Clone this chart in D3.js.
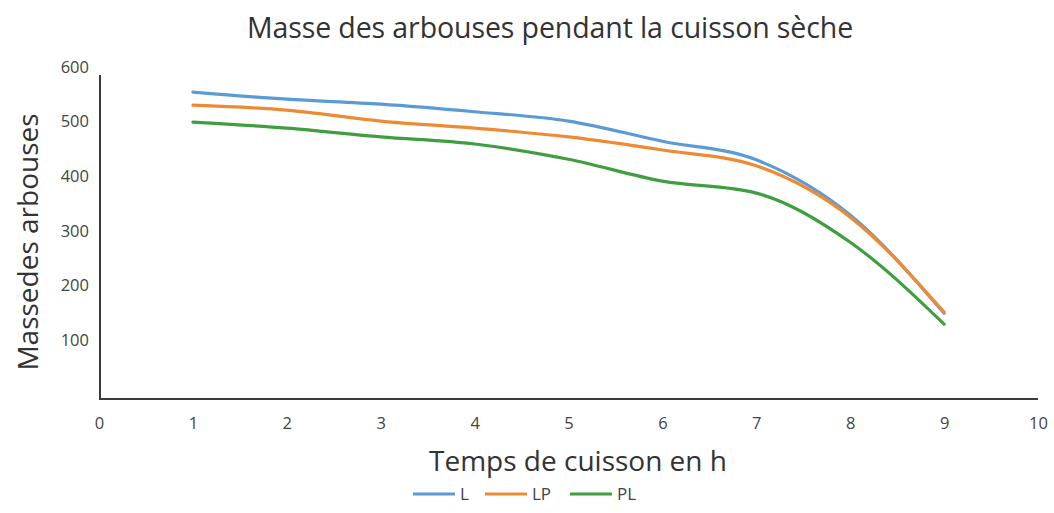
<!DOCTYPE html>
<html>
<head>
<meta charset="utf-8">
<script src="https://cdn.jsdelivr.net/npm/d3@7"></script>
<style>
  html, body { margin: 0; padding: 0; background: #ffffff; }
  svg { display: block; font-family: "Open Sans", "Noto Sans", sans-serif; }
</style>
</head>
<body>
<svg id="chart" width="1054" height="513"></svg>
<script>
// Cooking time (hours)
const hours = [1, 2, 3, 4, 5, 6, 7, 8, 9];
// Mass of the strawberry-tree fruits for each batch
const massL  = [554, 541, 532, 518, 501, 464, 430, 329, 149];
const massLP = [530, 521, 501, 488, 472, 448, 419, 325, 151];
const massPL = [499, 488, 472, 459, 431, 391, 369, 279, 129];
const seriesNames = ["L", "LP", "PL"];
const xTicks = [0, 1, 2, 3, 4, 5, 6, 7, 8, 9, 10];
const yTicks = [100, 200, 300, 400, 500, 600];

const colors = { L: "#5b9bd5", LP: "#ed8b35", PL: "#3f9e3f" };
const series = [
  { name: seriesNames[0], values: massL },
  { name: seriesNames[1], values: massLP },
  { name: seriesNames[2], values: massPL }
];

const svg = d3.select("#chart");

const x = d3.scaleLinear().domain([0, 10]).range([99, 1038]);
const y = d3.scaleLinear().domain([0, 600]).range([394.6, 67]);

// Title
svg.append("text")
  .attr("x", 550).attr("y", 38)
  .attr("text-anchor", "middle")
  .attr("font-size", 28.5)
  .attr("letter-spacing", -0.1)
  .attr("fill", "#333")
  .text("Masse des arbouses pendant la cuisson sèche");

// Axis lines
svg.append("line")
  .attr("x1", 100).attr("x2", 100)
  .attr("y1", 75).attr("y2", 399.5)
  .attr("stroke", "#3a3a3a").attr("stroke-width", 2);
svg.append("line")
  .attr("x1", 99).attr("x2", x(10))
  .attr("y1", 399).attr("y2", 399)
  .attr("stroke", "#3a3a3a").attr("stroke-width", 2);

// Y tick labels
const yAxis = d3.axisLeft(y).tickValues(yTicks).tickSize(0).tickPadding(0);
const gy = svg.append("g").attr("transform", "translate(89,0)").call(yAxis);
gy.select(".domain").remove();
gy.selectAll("text")
  .attr("font-size", 16.5).attr("fill", "#444")
  .attr("font-family", "\"Open Sans\", sans-serif");

// X tick labels
const xAxis = d3.axisBottom(x).tickValues(xTicks).tickSize(0).tickPadding(0)
  .tickFormat(d3.format("d"));
const gx = svg.append("g").attr("transform", "translate(0,417)").call(xAxis);
gx.select(".domain").remove();
gx.selectAll("text")
  .attr("font-size", 16.5).attr("fill", "#444")
  .attr("font-family", "\"Open Sans\", sans-serif");

// Axis titles
svg.append("text")
  .attr("transform", "translate(38,242) rotate(-90)")
  .attr("text-anchor", "middle")
  .attr("font-size", 28)
  .attr("fill", "#333")
  .text("Massedes arbouses");

svg.append("text")
  .attr("x", 578).attr("y", 471)
  .attr("text-anchor", "middle")
  .attr("font-size", 28)
  .attr("fill", "#333")
  .text("Temps de cuisson en h");

// Series lines
const line = d3.line()
  .x((d, i) => x(hours[i]))
  .y(d => y(d))
  .curve(d3.curveMonotoneX);

svg.append("g").selectAll("path")
  .data(series)
  .join("path")
  .attr("d", d => line(d.values))
  .attr("fill", "none")
  .attr("stroke", d => colors[d.name])
  .attr("stroke-width", 3.2)
  .attr("stroke-linejoin", "round")
  .attr("stroke-linecap", "round");

// Legend
const legendX = [413, 485, 570];
const lg = svg.append("g").selectAll("g")
  .data(series)
  .join("g")
  .attr("transform", (d, i) => `translate(${legendX[i]},494)`);
lg.append("line")
  .attr("x1", 0).attr("x2", 42)
  .attr("stroke", d => colors[d.name])
  .attr("stroke-width", 3.2);
lg.append("text")
  .attr("x", 47).attr("y", 6)
  .attr("font-size", 17).attr("fill", "#444")
  .text(d => d.name);
</script>
</body>
</html>
